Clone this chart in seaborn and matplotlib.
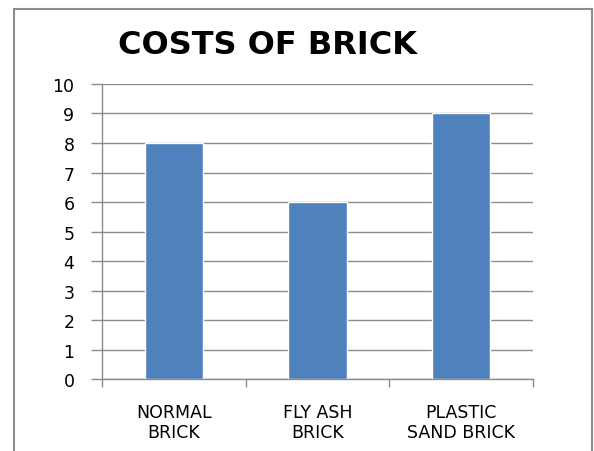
import matplotlib
matplotlib.use("Agg")
import matplotlib.pyplot as plt
import seaborn as sns
import pandas as pd
from matplotlib.patches import Rectangle

categories = ["NORMAL\nBRICK", "FLY ASH\nBRICK", "PLASTIC\nSAND BRICK"]
costs = [8, 6, 9]
yticks = [0, 1, 2, 3, 4, 5, 6, 7, 8, 9, 10]

df = pd.DataFrame({"Brick": categories, "Cost": costs})

sns.set_style("white")
plt.rcParams['font.family'] = ['DejaVu Sans']
plt.rcParams['text.color'] = 'black'
plt.rcParams['xtick.labelcolor'] = 'black'
plt.rcParams['ytick.labelcolor'] = 'black'

fig = plt.figure(figsize=(5.94, 4.52), dpi=100)
ax = fig.add_axes([0.172, 0.159, 0.725, 0.653])

sns.barplot(data=df, x="Brick", y="Cost", color="#4F81BD", saturation=1,
            width=0.41, ax=ax)

ax.set_ylim(0, 10)
ax.set_xlim(-0.5, 2.5)
ax.set_yticks(yticks)
ax.set_xlabel("")
ax.set_ylabel("")
ax.set_axisbelow(True)
ax.yaxis.grid(True, color="#8c8c8c", linewidth=1)

for s in ["top", "right"]:
    ax.spines[s].set_visible(False)
for s in ["left", "bottom"]:
    ax.spines[s].set_color("#8c8c8c")
    ax.spines[s].set_linewidth(1)

ax.tick_params(axis="y", length=8, width=1, color="#8c8c8c", labelsize=12.5, pad=12,
               left=True, labelcolor="black")
ax.set_xticks([-0.5, 0.5, 1.5, 2.5], minor=False)
ax.set_xticklabels([])
ax.set_xticks([0, 1, 2], minor=True)
ax.set_xticklabels(categories, minor=True, fontsize=12.5, linespacing=1.15, color="black")
ax.tick_params(axis="x", which="major", length=6, width=1, color="#8c8c8c", bottom=True)
ax.tick_params(axis="x", which="minor", length=0, pad=17)

fig.text(0.45, 0.9, "COSTS OF BRICK", ha="center", va="center",
         fontsize=23, fontweight="bold", color="black")

fig.patches.append(Rectangle((14 / 594, -0.01), (592 - 14) / 594, (442 - 0) / 452 + 0.01,
                             transform=fig.transFigure, fill=False,
                             edgecolor="#8c8c8c", linewidth=1.5))

fig.savefig("out.png", dpi=100)
